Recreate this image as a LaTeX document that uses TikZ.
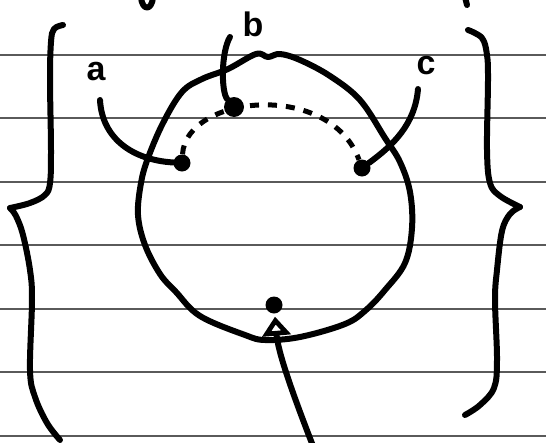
\documentclass[tikz,border=0pt]{standalone}
\usepackage{fontspec}
\setsansfont{Liberation Sans}
\usetikzlibrary{arrows.meta, calc}
\definecolor{Ink}{HTML}{000000}
\definecolor{Rule}{HTML}{5A5A5A}
\tikzset{
    pen/.style={draw=Ink, line width=6pt, line cap=round, line join=round},
    dotnode/.style={circle, fill=Ink, inner sep=0pt, minimum size=17pt},
    letter/.style={font=\sffamily\bfseries\fontsize{34}{34}\selectfont, text=Ink, inner sep=0pt},
    rule/.style={draw=Rule, line width=1.4pt},
    dashline/.style={pen, line width=5pt, line cap=butt, dash pattern=on 9pt off 9pt},
}

\begin{document}
\begin{tikzpicture}[x=1pt, y=-1pt]
        \useasboundingbox (0,0) rectangle (546,442);
        \fill[white] (0,0) rectangle (546,442);

        % lined paper
        \foreach \ly in {55,118,182,245,309,372,436}
            \draw[rule] (0,\ly) -- (546,\ly);

        % cut-off writing at the top
        \draw[pen] (141,-3) .. controls (142,11) and (152,11) .. (153,-3);
        \draw[pen] (465,-3) -- (467,5);

        % the loop
        \draw[pen] plot[smooth cycle, tension=0.6] coordinates {
            (256,54) (268,57) (280,54) (300,60) (330,76) (360,100) (385,138)
            (400,162) (410,192) (412,228) (405,263) (385,290) (366,310)
            (345,324) (300,337) (265,340) (245,335) (200,316) (176,292)
            (160,274) (145,245) (138,215) (141,183) (148,158) (163,123)
            (182,92) (202,79) (228,69)};

        % braces
        \draw[pen] plot[smooth, tension=0.6] coordinates {
            (63,25) (54,29) (51,42) (50,80) (51,150) (50,183) (45,195) (30,203) (10,208)};
        \draw[pen] plot[smooth, tension=0.6] coordinates {
            (10,208) (16,216) (23,235) (30,270) (32,300) (30,370) (35,397) (47,423) (60,440)};
        \draw[pen] plot[smooth, tension=0.6] coordinates {
            (468,30) (482,38) (487,55) (488,80) (487,150) (490,183) (500,196) (520,207)};
        \draw[pen] plot[smooth, tension=0.6] coordinates {
            (520,207) (510,214) (502,231) (497,270) (495,300) (497,360) (494,388) (480,405) (465,415)};

        % points
        \node[dotnode] (ptA) at (182,163) {};
        \node[dotnode, minimum size=20pt] (ptB) at (234,107) {};
        \node[dotnode] (ptC) at (362,168) {};
        \node[dotnode] (ptD) at (274,305) {};

        % labels
        \node[letter] (labA) at (96,72) {a};
        \node[letter] (labB) at (253,24) {b};
        \node[letter] (labC) at (426,66) {c};

        \coordinate (stemA) at (100,100);
        \coordinate (stemB) at (230,37);
        \coordinate (stemC) at (418,89);
        \coordinate (tail) at (313,446);

        \draw[pen] (stemA) .. controls (102,138) and (132,160) .. (ptA);
        \draw[pen] (stemB) .. controls (221,52) and (221,92) .. (ptB);
        \draw[pen] (stemC) .. controls (415,125) and (392,146) .. (ptC);
        \draw[dashline] (ptA) .. controls (186,95) and (330,80) .. (ptC);

        \draw[pen, -{Triangle[open, length=19pt, width=28pt, line width=5pt]}, shorten >=3pt]
            (tail) .. controls (292,392) and (278,352) .. (ptD);
    \end{tikzpicture}
\end{document}
